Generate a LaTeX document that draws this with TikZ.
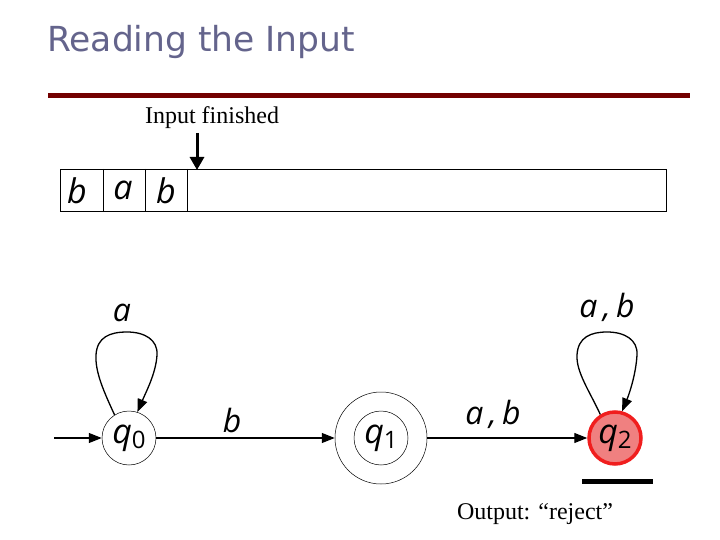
\documentclass[tikz,border=0pt]{standalone}
\usepackage{fontspec}
\setmainfont{Liberation Serif}
\newfontfamily\titlefont{DejaVu Sans}
\newfontfamily\comicfont{Open Sans}
\usetikzlibrary{arrows.meta}
\definecolor{titlegray}{RGB}{100,100,140}
\definecolor{barred}{RGB}{115,0,0}
\definecolor{qfill}{RGB}{240,128,128}
\definecolor{qborder}{RGB}{240,30,30}
\newcommand{\stlabel}[1]{q\raisebox{-5pt}{\upshape\fontsize{24}{24}\selectfont #1}}
\tikzset{
  state/.style={circle,draw,line width=0.5pt,minimum size=54pt,inner sep=0pt,font=\comicfont\itshape\fontsize{34}{34}\selectfont},
  lbl/.style={font=\comicfont\itshape\fontsize{32}{32}\selectfont,inner sep=0pt},
  edge/.style={line width=1.3pt,-{Triangle[length=13pt,width=10pt]}},
  cellchar/.style={font=\comicfont\itshape\fontsize{34}{34}\selectfont,inner sep=0pt}
}
\begin{document}
\begin{tikzpicture}[x=1pt,y=-1pt]
\useasboundingbox (0,0) rectangle (720,540);
% title
\node[anchor=base west,inner sep=0pt,text=titlegray,font=\titlefont\fontsize{34.5}{34.5}\selectfont] (title) at (47,52) {Reading the Input};
\fill[barred] (48,93) rectangle (690,98);
% tape
\node[anchor=center,inner sep=0pt,font=\fontsize{24}{24}\selectfont] (fin) at (212,118) {Input finished};
\draw[line width=0.7pt] (60,169) rectangle (666,211);
\draw[line width=0.7pt] (103,169) -- (103,211) (145,169) -- (145,211) (187,169) -- (187,211);
\node[cellchar] (c1) at (77,191) {b};
\node[cellchar] (c2) at (123,190) {a};
\node[cellchar] (c3) at (166,191) {b};
\coordinate (arrtop) at (197,133);
\coordinate (arrbot) at (197,170);
\draw[line width=3pt,-{Triangle[length=13pt,width=14pt]}] (arrtop) -- (arrbot);
% states
\node[state] (q0) at (129,438) {\stlabel{0}};
\node[circle,draw,line width=0.5pt,minimum size=92pt,inner sep=0pt] (q1o) at (381,438) {};
\node[state] (q1) at (381,438) {\stlabel{1}};
\node[state,fill=qfill,draw=qborder,line width=3.5pt,minimum size=52pt] (q2) at (615,438) {\stlabel{2}};
% initial
\coordinate (init) at (54,438);
\draw[edge] (init) -- (q0.west);
% edges
\draw[edge] (q0.east) -- (q1o.west);
\node[lbl] (lb) at (232,420) {b};
\draw[edge] (q1o.east) -- (q2.west);
\node[lbl] (lab) at (493,414) {a\,,\,b};
% loops
\draw[edge] (q0.122) .. controls (104,392) and (95,372) .. (96,355) .. controls (97,337) and (110,332) .. (127,332) .. controls (145,332) and (158,340) .. (157,355) .. controls (156,373) and (146,392) .. (q0.72);
\node[lbl] (la) at (122,313) {a};
\draw[edge] (q2.122) .. controls (590,392) and (576,372) .. (577,355) .. controls (578,337) and (591,332) .. (607,332) .. controls (625,332) and (638,340) .. (637,355) .. controls (636,373) and (630,392) .. (q2.75);
\node[lbl] (lab2) at (607,307) {a\,,\,b};
% output
\fill (582,479) rectangle (653,484);
\node[inner sep=0pt,font=\fontsize{24}{24}\selectfont] (out) at (535,514) {Output: “reject”};
\end{tikzpicture}
\end{document}
